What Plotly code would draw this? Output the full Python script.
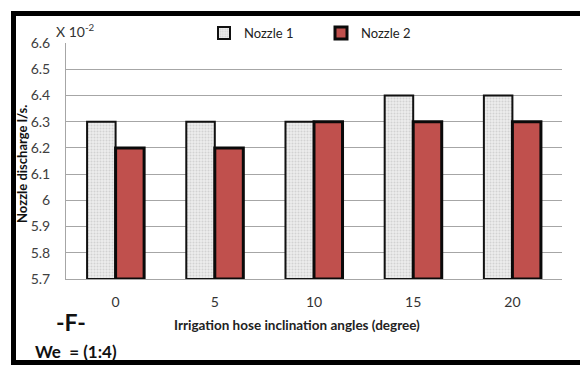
import plotly.graph_objects as go

# Irrigation hose inclination angles (degree)
angles = ["0", "5", "10", "15", "20"]
# Nozzle discharge (x 10^-2 l/s)
nozzle_1 = [6.3, 6.3, 6.3, 6.4, 6.4]
nozzle_2 = [6.2, 6.2, 6.3, 6.3, 6.3]
y_ticks = [5.7, 5.8, 5.9, 6.0, 6.1, 6.2, 6.3, 6.4, 6.5, 6.6]
y_tick_text = ["5.7", "5.8", "5.9", "6", "6.1", "6.2", "6.3", "6.4", "6.5", "6.6"]

Y_MIN, Y_MAX = 5.7, 6.6
FONT = "Lato, Carlito, Calibri, sans-serif"

fig = go.Figure()
fig.add_trace(go.Bar(
    name="Nozzle 1", x=angles, y=[v - Y_MIN for v in nozzle_1], base=Y_MIN,
    marker=dict(
        color="#e6e6e6",
        line=dict(color="#111111", width=2),
        pattern=dict(shape=".", bgcolor="#eeeeee", fgcolor="#d2d2d2",
                     size=3, solidity=0.35, fillmode="replace"),
    ),
))
fig.add_trace(go.Bar(
    name="Nozzle 2", x=angles, y=[v - Y_MIN for v in nozzle_2], base=Y_MIN,
    marker=dict(color="#c0504d", line=dict(color="#0a0a0a", width=3)),
))

# Plot area: x 66..562 px, y 43..279 px
L, R, T, B = 66, 18, 43, 86
W, H = 580, 365
pw, ph = W - L - R, H - T - B


def px(x):
    return (x - L) / pw


def py(y):
    return (H - B - y) / ph


fig.update_layout(
    width=W, height=H,
    margin=dict(l=L, r=R, t=T, b=B, pad=0),
    paper_bgcolor="white", plot_bgcolor="white",
    barmode="group", bargap=0.425, bargroupgap=0,
    font=dict(family=FONT, size=14, color="#404040"),
    showlegend=True,
    legend=dict(
        orientation="h", x=px(204), y=py(33), xanchor="left", yanchor="middle",
        font=dict(family=FONT, size=13, color="#222222"),
        itemwidth=30, entrywidth=72, entrywidthmode="pixels",
        bgcolor="rgba(0,0,0,0)",
    ),
    xaxis=dict(
        showgrid=False, showline=True, linecolor="#a6a6a6", linewidth=1,
        ticks="", tickfont=dict(size=14, color="#333333"),
        ticklabelstandoff=10,
    ),
    yaxis=dict(
        range=[Y_MIN, Y_MAX], tickvals=y_ticks, ticktext=y_tick_text,
        showgrid=True, gridcolor="#a6a6a6", gridwidth=1,
        showline=True, linecolor="#a6a6a6", linewidth=1,
        ticks="", zeroline=False, ticklabelstandoff=12,
        tickfont=dict(size=14, color="#404040"),
    ),
    shapes=[
        # thick black frame around the chart
        dict(type="rect", xref="paper", yref="paper",
             x0=px(13.5), x1=px(592), y0=py(362.5), y1=py(13.5),
             line=dict(color="black", width=5), fillcolor="rgba(0,0,0,0)",
             layer="above"),
    ],
    annotations=[
        dict(text="X 10<sup>-2</sup>", xref="paper", yref="paper",
             x=px(54), y=py(31), xanchor="left", yanchor="middle",
             showarrow=False, font=dict(size=14, color="#333333")),
        dict(text="<b>Nozzle discharge l/s.</b>", xref="paper", yref="paper",
             x=px(22), y=py(164), textangle=-90, xanchor="center",
             yanchor="middle", showarrow=False,
             font=dict(size=13, color="#111111")),
        dict(text="<b>Irrigation hose inclination angles (degree)</b>",
             xref="paper", yref="paper", x=px(297), y=py(325),
             xanchor="center", yanchor="middle", showarrow=False,
             font=dict(size=13.5, color="#222222")),
        dict(text="<b>-F-</b>", xref="paper", yref="paper",
             x=px(71), y=py(322), xanchor="center", yanchor="middle",
             showarrow=False, font=dict(size=23, color="#111111")),
        dict(text="<b>We  = (1:4)</b>", xref="paper", yref="paper",
             x=px(33), y=py(351), xanchor="left", yanchor="middle",
             showarrow=False, font=dict(size=17, color="#111111")),
    ],
)

fig.write_html("out.html")
